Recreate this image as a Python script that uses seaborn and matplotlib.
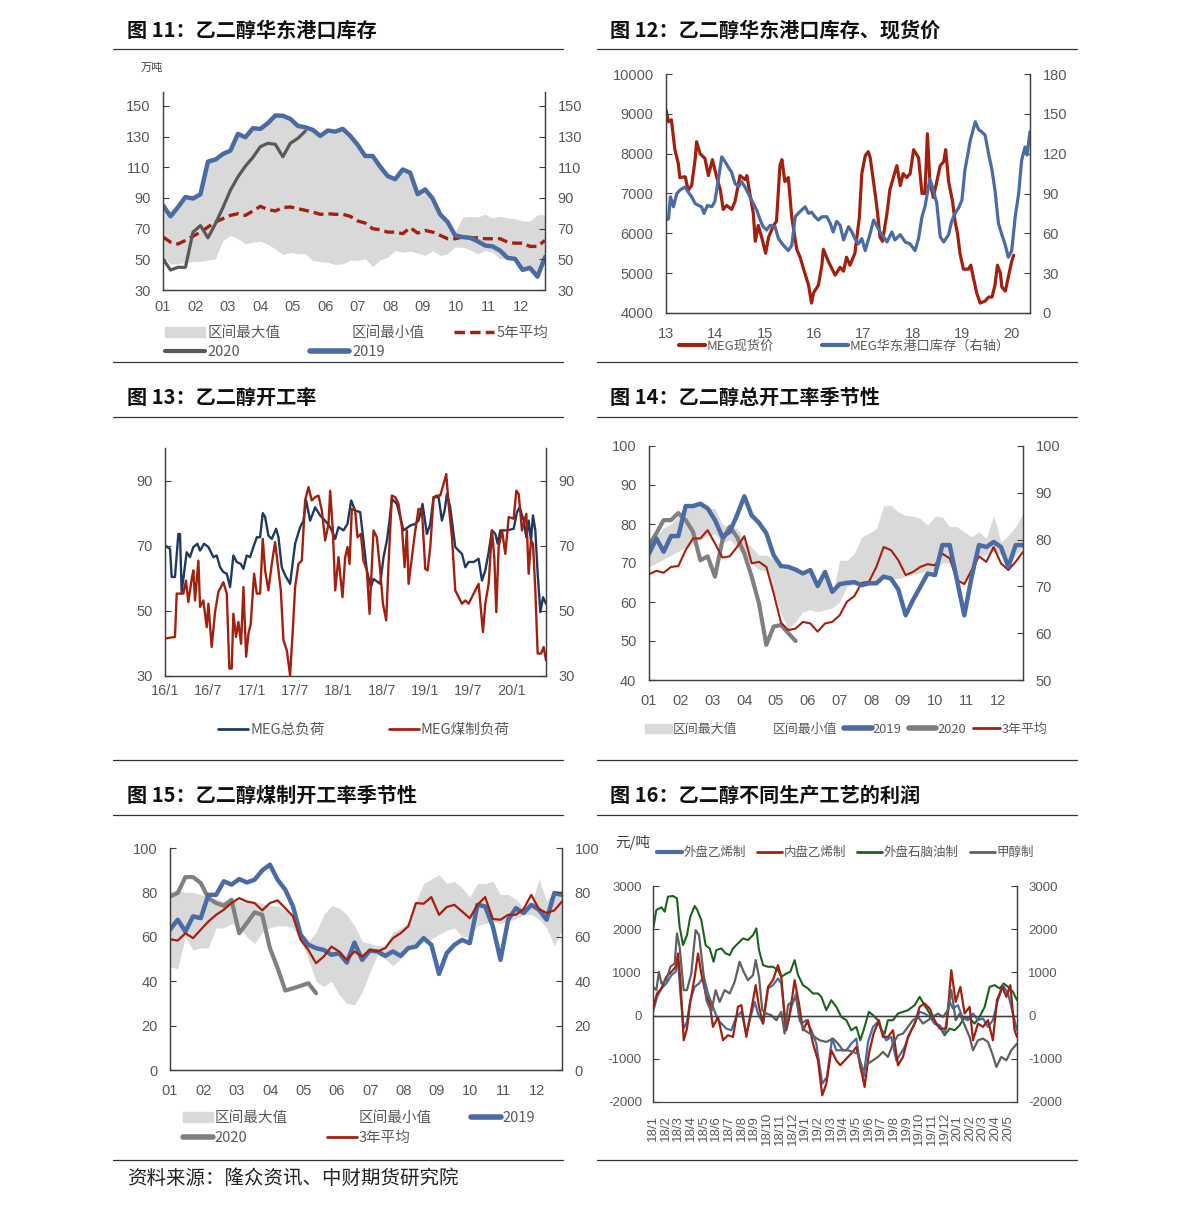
import matplotlib
matplotlib.use('Agg')
import matplotlib.pyplot as plt
import seaborn as sns
from matplotlib.lines import Line2D
from matplotlib.patches import Patch

sns.set_theme(style='white')
plt.rcParams['font.family'] = ['Liberation Sans', 'Noto Sans CJK SC', 'DejaVu Sans']
plt.rcParams['axes.unicode_minus'] = False

# ---------------- data ----------------
# Fig 11: East China port inventory (weekly, 万吨)
inv_weeks = list(range(52))
inv_month_labels = ['01', '02', '03', '04', '05', '06', '07', '08', '09', '10', '11', '12']
inv_band_max = [85.2, 78, 84, 90.6, 89.6, 92.4, 113.6, 115, 118.6, 120.8, 131.7, 129.5, 135.4, 135, 138.7, 143.7,
                143.5, 141.5, 136.9, 136, 134.3, 130.4, 133.9, 133.2, 135, 130.4, 124.5, 117.3, 117.3, 110.3,
                104.2, 102.2, 108.5, 106.4, 92.4, 95.5, 89.6, 79.3, 74.3, 67.5, 77.6, 78, 77.6, 79.3, 77, 78, 77,
                76.5, 75, 75, 79, 79]
inv_band_min = [51, 47, 47, 48, 48.5, 48.7, 49.6, 50.3, 62.3, 65.6, 63.4, 60, 61.2, 61.8, 59.7, 56.8, 53.1, 54.6,
                53.6, 53.6, 49.2, 48.5, 48, 46.6, 47, 49.6, 49.2, 50.3, 45.3, 49.6, 51.4, 55.7, 54.6, 55.3, 54,
                52.5, 55.7, 52.5, 53.6, 57.9, 57.9, 56.2, 53.6, 55.7, 54.6, 50.3, 50.3, 49.6, 42.6, 44.4, 38.7, 51]
inv_avg5 = [64.5, 61.2, 60, 62.3, 65, 67.7, 71, 74.3, 76.5, 78.6, 79.7, 78.6, 81.5, 84.5, 82.4, 81.5, 83.7, 84.1,
            83, 81.9, 80.8, 79.3, 79.7, 79.3, 79.3, 78, 75, 73.6, 69.9, 69.3, 67.7, 67.7, 66.7, 70.6, 67.1, 68.8,
            67.7, 65.6, 63.4, 63.4, 64.5, 64, 64, 63.4, 63.4, 63.4, 61.2, 60.5, 60.5, 58.4, 58.4, 62.3]
inv_2020 = [50.3, 43, 44.8, 44.8, 67.7, 72, 64, 73.2, 83.7, 95, 103.7, 110.7, 116.4, 123.4, 125.6, 124.9, 116.8,
            125.6, 128.8, 133.5]
inv_2019 = [85.2, 78, 84, 90.6, 89.6, 92.4, 113.6, 115, 118.6, 120.8, 131.7, 129.5, 135.4, 135, 138.7, 143.7,
            143.5, 141.5, 136.9, 136, 134.3, 130.4, 133.9, 133.2, 135, 130.4, 124.5, 117.3, 117.3, 110.3, 104.2,
            102.2, 108.5, 106.4, 92.4, 95.5, 89.6, 79.3, 74.3, 65.6, 64.5, 64, 61.8, 59, 58.4, 55.7, 50.9, 50.3,
            43.1, 44.4, 38.7, 51.4]

# Fig 12: spot price vs inventory (decimal years, 13 = 2013)
price_t = [13.00, 13.05, 13.11, 13.18, 13.25, 13.28, 13.39, 13.45, 13.52, 13.59, 13.62, 13.69, 13.79, 13.86,
           13.94, 14.03, 14.10, 14.16, 14.23, 14.33, 14.40, 14.50, 14.60, 14.64, 14.70, 14.77, 14.81, 14.87,
           14.94, 15.02, 15.08, 15.18, 15.24, 15.31, 15.35, 15.41, 15.48, 15.55, 15.65, 15.72, 15.79, 15.89,
           15.95, 15.99, 16.09, 16.16, 16.19, 16.29, 16.43, 16.53, 16.60, 16.66, 16.73, 16.83, 16.92, 16.97,
           17.04, 17.10, 17.14, 17.24, 17.29, 17.34, 17.39, 17.48, 17.51, 17.54, 17.61, 17.68, 17.75, 17.81,
           17.88, 17.95, 18.02, 18.12, 18.19, 18.25, 18.30, 18.35, 18.42, 18.49, 18.56, 18.63, 18.67, 18.73,
           18.81, 18.86, 18.91, 18.96, 19.03, 19.13, 19.18, 19.23, 19.30, 19.37, 19.47, 19.54, 19.61, 19.67,
           19.72, 19.78, 19.81, 19.88, 19.94, 20.01, 20.05]
price_v = [9100, 8800, 8850, 8100, 7750, 7400, 7420, 7080, 7200, 7850, 8300, 8000, 7880, 7450, 7850, 7400, 7100,
           6600, 6700, 6600, 6800, 7450, 7350, 7450, 7000, 6500, 5800, 6200, 5900, 5500, 5900, 6200, 6300, 7700,
           7850, 7300, 7400, 6400, 5600, 5400, 5100, 4700, 4250, 4500, 4700, 5200, 5600, 5300, 4950, 5150, 5050,
           5400, 5200, 5500, 6400, 7500, 7950, 8050, 7900, 7000, 6500, 5900, 5800, 6500, 6800, 7100, 7400, 7700,
           7200, 7500, 7400, 7500, 8100, 7900, 7000, 7000, 8500, 7300, 6900, 7300, 7700, 7800, 8100, 7300, 6800,
           6300, 6000, 5500, 5100, 5100, 5200, 4900, 4500, 4250, 4300, 4400, 4400, 4700, 5200, 5000, 4650, 4550,
           4900, 5300, 5450]
stock_t = [13.00, 13.05, 13.09, 13.15, 13.22, 13.28, 13.39, 13.45, 13.52, 13.59, 13.66, 13.72, 13.77, 13.84,
           13.93, 13.99, 14.06, 14.13, 14.18, 14.26, 14.33, 14.40, 14.47, 14.53, 14.60, 14.67, 14.77, 14.84,
           14.91, 14.97, 15.04, 15.11, 15.21, 15.28, 15.38, 15.48, 15.55, 15.62, 15.68, 15.75, 15.82, 15.89,
           15.95, 16.02, 16.09, 16.16, 16.26, 16.33, 16.39, 16.46, 16.53, 16.60, 16.70, 16.77, 16.83, 16.90,
           16.97, 17.04, 17.14, 17.21, 17.27, 17.34, 17.41, 17.48, 17.58, 17.64, 17.75, 17.85, 17.95, 18.05,
           18.12, 18.19, 18.25, 18.35, 18.42, 18.49, 18.56, 18.63, 18.73, 18.79, 18.86, 18.93, 19.00, 19.06,
           19.17, 19.27, 19.34, 19.40, 19.47, 19.54, 19.61, 19.67, 19.74, 19.81, 19.88, 19.94, 20.01, 20.08,
           20.15, 20.21, 20.28, 20.32, 20.38]
stock_v = [70, 71, 87.5, 80, 90, 92.5, 95, 91, 87.5, 82.5, 81, 80, 75, 81, 80, 84, 100, 117.6, 115, 110, 106, 97.5,
           95, 99, 95, 90, 82.5, 77.5, 70, 65, 62.5, 66, 65, 56, 51, 47, 51, 72.5, 75, 77.5, 80, 75, 76, 72.5, 70,
           72.5, 72.5, 67.5, 61, 69, 66, 55, 65, 61, 56, 52, 56, 47, 60, 70, 66, 61, 57.5, 53.5, 61, 55, 59, 53.5,
           52, 47, 56, 72.5, 80, 101, 92.5, 82.5, 57.5, 53.5, 59, 69, 75, 79, 85, 107.6, 130, 144, 138, 136.5, 134,
           120, 107.6, 92.5, 67.5, 59, 51, 42, 47, 72.5, 90, 115, 125, 119, 136.5]
year_labels = ['13', '14', '15', '16', '17', '18', '19', '20']

# Fig 13: operating rate (decimal years, 16 = 2016)
total_t = [16.000, 16.058, 16.077, 16.115, 16.154, 16.173, 16.192, 16.250, 16.288, 16.327, 16.373, 16.404,
           16.450, 16.500, 16.558, 16.596, 16.635, 16.673, 16.712, 16.750, 16.788, 16.827, 16.873, 16.904,
           16.942, 16.981, 17.019, 17.058, 17.096, 17.127, 17.154, 17.192, 17.231, 17.281, 17.308, 17.346,
           17.385, 17.442, 17.500, 17.558, 17.596, 17.627, 17.673, 17.731, 17.788, 17.846, 17.904, 17.962,
           18.000, 18.058, 18.104, 18.146, 18.192, 18.250, 18.288, 18.327, 18.373, 18.404, 18.481, 18.519,
           18.558, 18.588, 18.615, 18.673, 18.750, 18.827, 18.885, 18.923, 18.969, 19.019, 19.058, 19.096,
           19.154, 19.192, 19.223, 19.250, 19.288, 19.346, 19.385, 19.423, 19.462, 19.500, 19.558, 19.615,
           19.654, 19.692, 19.731, 19.769, 19.808, 19.835, 19.865, 19.942, 20.019, 20.058, 20.088, 20.135,
           20.165, 20.192, 20.219, 20.242, 20.269, 20.296, 20.327, 20.358, 20.392]
total_v = [70.1, 69, 60.4, 60.4, 73.6, 73.6, 55.8, 68, 66.5, 69.6, 70.6, 68.5, 70.6, 69.6, 66.5, 67, 63.4, 61.9,
           61.4, 57.3, 67, 65, 64.4, 62.9, 67, 66.5, 69.6, 72.6, 72.6, 80, 78.8, 73.1, 72.1, 75.2, 72.6, 63.4,
           60.9, 58.3, 70.6, 75.7, 77.7, 83.9, 77.7, 81.8, 79.3, 77.7, 75.7, 72.1, 75.7, 74.7, 76.7, 83.9, 80.8,
           80.3, 71.6, 62.4, 57.3, 59.8, 58.3, 66.5, 71.6, 77.7, 84.4, 82.8, 74.7, 76.2, 76.7, 77.7, 82.8, 73.6,
           76.7, 84.9, 84.9, 77.7, 80.8, 85.9, 81.8, 69.6, 68.5, 67.5, 63.4, 65, 65, 66, 59.3, 62.4, 68, 74.7,
           73.6, 70.6, 74.7, 74.7, 75.2, 80.3, 81.8, 77.7, 72.6, 77.7, 71.6, 79.3, 74.7, 61.4, 49.6, 54.2, 52.2]
coal_t = [16.000, 16.115, 16.135, 16.212, 16.242, 16.269, 16.308, 16.327, 16.346, 16.385, 16.404, 16.442,
          16.481, 16.500, 16.538, 16.577, 16.615, 16.673, 16.712, 16.742, 16.769, 16.788, 16.819, 16.846,
          16.877, 16.904, 16.935, 16.962, 16.988, 17.027, 17.058, 17.096, 17.127, 17.154, 17.192, 17.231,
          17.269, 17.308, 17.335, 17.365, 17.404, 17.442, 17.473, 17.500, 17.538, 17.577, 17.615, 17.654,
          17.692, 17.731, 17.769, 17.808, 17.846, 17.885, 17.904, 17.935, 17.962, 18.000, 18.046, 18.077,
          18.104, 18.127, 18.154, 18.192, 18.219, 18.258, 18.288, 18.327, 18.358, 18.404, 18.442, 18.481,
          18.512, 18.550, 18.577, 18.615, 18.654, 18.692, 18.731, 18.762, 18.788, 18.808, 18.846, 18.885,
          18.923, 18.962, 19.000, 19.027, 19.058, 19.096, 19.135, 19.173, 19.212, 19.242, 19.269, 19.308,
          19.346, 19.385, 19.423, 19.462, 19.500, 19.538, 19.577, 19.615, 19.642, 19.665, 19.692, 19.731,
          19.769, 19.796, 19.819, 19.846, 19.885, 19.923, 19.962, 20.019, 20.050, 20.077, 20.115, 20.165,
          20.192, 20.219, 20.242, 20.269, 20.296, 20.335, 20.365, 20.392]
coal_v = [41.5, 42, 55.3, 55.3, 59.3, 52.7, 59.8, 62.4, 53.2, 65.4, 51.2, 53.2, 45, 52.2, 38.9, 49.6, 55.8, 58.8,
          55.3, 32.3, 32.3, 49.1, 42, 46.6, 39.9, 57.3, 35.9, 43, 46, 61.4, 55.3, 55.3, 72.1, 62.4, 56.3, 64.4,
          71.1, 62.4, 56.3, 41, 37.9, 30.2, 44, 57.3, 64.4, 65.4, 83.9, 88, 83.9, 84.9, 85.4, 80.8, 71.6, 76.7,
          86.9, 74.7, 56.3, 66.5, 54.2, 66.5, 69.6, 64.4, 81.3, 80.8, 72.6, 73.6, 65.4, 62.4, 49.1, 74.7, 72.6,
          62.4, 52.2, 47.1, 64.4, 85.4, 84.9, 82.8, 75.7, 63.4, 74.7, 58.3, 66.5, 74.7, 81.3, 80.8, 62.9, 62.4,
          69.6, 84.9, 85.4, 85.4, 89, 92, 82.8, 72.6, 56.3, 54.2, 52.2, 53.2, 52.2, 54.2, 56.3, 58.3, 50.1, 43.5,
          52.2, 58.3, 74.7, 66.5, 49.6, 69.6, 74.7, 67.5, 78.8, 78.3, 86.9, 85.9, 74.7, 79.8, 61.4, 71.6, 70.6,
          56.3, 36.9, 36.9, 38.9, 34.8]
half_year_labels = ['16/1', '16/7', '17/1', '17/7', '18/1', '18/7', '19/1', '19/7', '20/1']

# Fig 14: total operating rate seasonality (weekly)
op_weeks = list(range(52))
op_band_max = [75, 77, 79, 80, 82, 84.5, 85, 85.5, 84, 84, 80, 79, 79, 76, 74, 72, 72, 71, 68.5, 68.5, 67.8,
               66.8, 67.5, 63.5, 67, 62, 70.7, 70.7, 72.4, 76.7, 77.6, 78.8, 84.6, 84.8, 83.1, 82.2, 82, 81.4,
               79.7, 82, 81.8, 79.3, 79.3, 78, 76.7, 78, 76.3, 82.2, 75.4, 77.1, 79.3, 82.7]
op_band_min = [69, 70, 71, 72, 73, 74, 75, 76, 77, 77.5, 75, 76, 74, 72, 70, 68.2, 68, 63, 57, 53, 55, 57.5, 58,
               57.5, 58, 58.5, 60, 64, 64.5, 64.5, 64.8, 65, 66, 66, 66, 66.5, 67, 67.5, 68, 68, 70, 70, 66, 65,
               67, 72, 72, 73, 72, 69, 72, 74]
op_2019 = [72.4, 76.3, 72.9, 76.9, 76.9, 84.6, 84.6, 85.2, 84, 81, 76.7, 78, 82.2, 87.1, 82.2, 80.3, 77.6, 72,
           69.2, 69, 68.3, 67.3, 68.2, 64.1, 67.7, 62.6, 64.6, 64.9, 65.1, 64.3, 64.8, 64.8, 66.5, 66, 63.2, 56.6,
           60.5, 63.9, 67.3, 66.9, 74.6, 74.6, 65.6, 56.6, 66.5, 74.6, 74.1, 75.4, 74.1, 69, 74.6, 74.6]
op_2020 = [74.6, 77.6, 81, 81, 82.8, 81, 78, 70.7, 71.7, 66.5, 75.8, 79.3, 76.7, 72.4, 66.5, 59.6, 49, 53.7,
           54.1, 52, 50]
op_avg3 = [67.1, 68, 67.5, 69, 69.2, 73.3, 76.3, 76.3, 78.4, 75, 71.4, 71.7, 74.1, 76.9, 69.9, 70.3, 69, 62.2,
           54.7, 52.8, 53.2, 54.9, 54.5, 52.4, 54.5, 54.9, 56.6, 60.1, 61.5, 64.9, 65.2, 69, 74.1, 73.3, 70.7,
           66.9, 67.7, 69, 69.7, 69.4, 72.4, 71.2, 65.6, 64.6, 68.2, 71.7, 70.3, 74.1, 69.9, 68.2, 70.3, 72.9]

# Fig 15: coal-based operating rate seasonality (weekly)
coal_band_max = [80.4, 81, 80, 80, 79, 78, 77, 76, 76, 76, 76, 76, 75, 74, 74, 72, 70, 62, 58, 62, 70, 74, 73, 70,
                 65, 58, 57, 56, 56, 62, 64, 66, 76, 84, 86, 88, 84, 85, 82, 78, 84, 84, 85, 79, 79, 77, 73, 74,
                 86, 76, 81, 81]
coal_band_min = [46.6, 45.5, 60, 54, 55, 55, 64, 64, 66, 64, 60, 57, 62, 64, 65, 65, 64, 58, 50, 40, 37.6, 40, 34,
                 30, 29.3, 35, 44, 52, 50, 47, 50, 54, 56, 58, 59, 61, 63, 64, 60, 60, 65, 66, 67, 66, 67, 68, 70,
                 70, 68, 64, 56, 63]
coal_2019 = [63.2, 67.7, 62.4, 69.2, 68.4, 78.9, 78.9, 85, 83.5, 86, 84.5, 85.7, 89.9, 92.5, 85.7, 81.2, 73.7,
             60.9, 56.4, 54.9, 54.1, 51.9, 52.6, 48.4, 57.4, 49.6, 53.8, 53.4, 51.4, 53.4, 51.4, 54.9, 55.6, 59.4,
             56.4, 43.3, 52.6, 56.4, 58.6, 57.1, 74.4, 73.7, 64.7, 49.6, 67.7, 72.9, 70.7, 74.4, 72.2, 67.7, 79.7,
             78.9]
coal_2020 = [78.2, 79.7, 86.9, 86.9, 84.2, 77.4, 75.2, 74, 76.7, 61.6, 66.2, 71, 69.9, 54.9, 45.9, 35.8, 36.8,
             37.9, 39.1, 34.6]
coal_avg3 = [58.9, 58.3, 61.6, 59.4, 63.2, 66.9, 69.9, 72.2, 75.2, 77.4, 75.9, 75.2, 71.9, 75.2, 76.4, 72.9, 69.2,
             58.6, 54.1, 48.1, 51.1, 55.6, 53.4, 49.6, 53.4, 51.1, 54.1, 53.4, 54.9, 59.4, 61.6, 64.7, 75.2, 74.9,
             77.9, 69.9, 73.4, 74.4, 71.4, 68.4, 74.4, 77.9, 68, 67.7, 69.9, 69.9, 72.5, 78.9, 72.5, 70.7, 71.9,
             75.9]

# Fig 16: profit by process (months since 2018-01)
naphtha_t = [0.00, 0.26, 0.66, 0.92, 1.18, 1.58, 1.89, 2.10, 2.37, 2.68, 2.94, 3.29, 3.47, 3.81, 4.15, 4.47, 4.78,
             4.99, 5.39, 5.73, 6.05, 6.31, 6.70, 7.10, 7.49, 7.89, 8.15, 8.36, 8.68, 9.07, 9.46, 9.86, 10.12,
             10.52, 10.83, 11.17, 11.44, 11.83, 12.22, 12.62, 13.01, 13.28, 13.67, 14.06, 14.46, 14.85, 15.25,
             15.64, 16.04, 16.35, 16.61, 17.03, 17.35, 17.74, 18.01, 18.27, 18.53, 18.93, 19.32, 19.72, 20.11,
             20.64, 21.03, 21.42, 21.82, 22.21, 22.61, 23.00, 23.40, 23.79, 24.19, 24.58, 24.97, 25.37, 25.76,
             26.16, 26.55, 26.95, 27.34, 27.66, 28.00, 28.39, 28.71]
naphtha_v = [1980, 2444, 2505, 2405, 2753, 2768, 2714, 2057, 1632, 1864, 2289, 2536, 2459, 2212, 1632, 1555, 1246,
             1516, 1555, 1439, 1400, 1555, 1671, 1787, 1748, 1864, 2019, 1516, 1168, 1130, 1130, 1052, 898, 975,
             1014, 1284, 937, 705, 627, 512, 512, 434, 125, 357, 203, -29, -107, -339, -262, -571, -339, 87, 10,
             -107, -339, -416, -107, -107, 48, 87, 125, 241, 434, 241, 48, -184, -262, -455, -300, -339, -223, -29,
             -68, -184, -29, 203, 666, 705, 627, 743, 666, 550, 357]
ext_eth_t = [0.00, 0.32, 0.66, 1.05, 1.45, 1.79, 1.97, 2.16, 2.42, 2.68, 2.94, 3.29, 3.63, 4.00, 4.34, 4.73, 5.13,
             5.39, 5.78, 6.18, 6.57, 6.97, 7.36, 7.62, 8.02, 8.28, 8.68, 9.07, 9.46, 9.86, 10.12, 10.52, 10.91,
             11.30, 11.70, 12.09, 12.49, 12.88, 13.35, 13.72, 14.12, 14.46, 14.85, 15.25, 15.64, 16.04, 16.35,
             16.61, 16.96, 17.35, 17.74, 18.14, 18.40, 18.80, 19.19, 19.45, 19.85, 20.24, 20.64, 21.03, 21.42,
             21.82, 22.21, 22.61, 23.00, 23.40, 23.66, 24.05, 24.45, 24.84, 25.24, 25.63, 26.03, 26.42, 26.81,
             27.21, 27.60, 28.00, 28.39, 28.71]
ext_eth_v = [87, 434, 627, 743, 937, 1014, 1284, 512, -300, -145, 357, 666, 743, 898, 512, 203, -107, -184, -300,
             -339, -29, 87, -416, -107, 318, 48, -184, 627, 705, 859, 743, -339, 203, 512, -184, -107, -339, -648,
             -1575, -1420, -532, -803, -803, -803, -648, -532, -1189, -1420, -610, -262, -145, -416, -571, -494,
             -1035, -918, -725, -416, -184, 87, 48, -29, -184, -223, -416, 318, 164, 241, -68, -107, 48, -107, -68,
             -262, -107, 357, 705, 512, 48, -339]
dom_eth_t = [0.00, 0.32, 0.66, 1.05, 1.45, 1.79, 1.97, 2.16, 2.42, 2.68, 2.94, 3.29, 3.55, 3.81, 4.15, 4.47, 4.73,
             5.13, 5.52, 5.91, 6.31, 6.70, 6.97, 7.36, 7.75, 8.10, 8.36, 8.68, 9.07, 9.46, 9.86, 10.12, 10.46,
             10.78, 11.17, 11.51, 11.83, 12.22, 12.62, 13.01, 13.35, 13.67, 14.06, 14.46, 14.77, 15.25, 15.64,
             16.04, 16.43, 16.69, 17.03, 17.40, 17.82, 18.14, 18.53, 18.93, 19.32, 19.72, 20.11, 20.64, 21.03,
             21.42, 21.82, 22.21, 22.61, 23.13, 23.53, 23.87, 24.24, 24.58, 24.97, 25.24, 25.63, 26.03, 26.42,
             26.81, 27.13, 27.55, 27.87, 28.18, 28.52, 28.71]
dom_eth_v = [164, 512, 627, 898, 1014, 1130, 1439, 821, -571, -300, 318, 898, 1439, 975, 512, 280, -262, -29, -571,
             -455, -494, 203, 241, -494, 125, 705, 203, -184, 666, 821, 1168, 898, -339, 10, 821, 280, -339, -107,
             -648, -1035, -1845, -1575, -803, -1035, -1150, -996, -880, -725, -1266, -1652, -880, -416, -107, -494,
             -494, -339, -1150, -957, -494, -184, 203, 280, 164, -107, -300, -300, 1052, 318, 666, 48, 203, -571,
             -184, -262, -107, -571, 357, 666, 434, 705, -339, -494]
methanol_t = [0.00, 0.26, 0.47, 0.66, 1.05, 1.37, 1.71, 1.89, 2.10, 2.42, 2.68, 3.02, 3.36, 3.63, 3.89, 4.21,
              4.60, 4.94, 5.26, 5.65, 6.05, 6.44, 6.83, 7.15, 7.49, 7.89, 8.10, 8.36, 8.62, 8.94, 9.33, 9.73,
              10.12, 10.38, 10.65, 10.91, 11.30, 11.57, 11.96, 12.36, 12.75, 13.14, 13.67, 14.20, 14.59, 14.98,
              15.38, 15.77, 16.17, 16.56, 16.96, 17.35, 17.74, 18.14, 18.53, 18.93, 19.32, 19.72, 20.11, 20.50,
              20.90, 21.29, 21.69, 22.08, 22.48, 22.87, 23.26, 23.53, 23.87, 24.19, 24.58, 24.97, 25.24, 25.63,
              26.03, 26.42, 26.76, 27.08, 27.47, 27.87, 28.26, 28.71]
methanol_v = [666, 589, 1014, 743, 821, 1130, 1207, 1903, 1594, 589, 589, 975, 1980, 1864, 1207, 357, 87, 589, 318,
              589, 512, 782, 1246, 1014, 821, 937, 1284, 898, 125, 48, 10, -107, 87, -416, 241, 318, 396, -107,
              -339, -416, -494, -571, -610, -532, -648, -803, -803, -841, -880, -1266, -1111, -1035, -957, -841,
              -957, -648, -455, -416, -262, -107, -29, -184, -107, -29, 48, -29, 125, 589, -107, 48, -223, -494,
              -803, -571, -532, -610, -880, -1189, -957, -1035, -803, -648]
month_labels_16 = ['18/1', '18/2', '18/3', '18/4', '18/5', '18/6', '18/7', '18/8', '18/9', '18/10', '18/11',
                   '18/12', '19/1', '19/2', '19/3', '19/4', '19/5', '19/6', '19/7', '19/8', '19/9', '19/10',
                   '19/11', '19/12', '20/1', '20/2', '20/3', '20/4', '20/5']

# ---------------- style ----------------
W, H = 1191, 1209
fig = plt.figure(figsize=(W / 100, H / 100), dpi=100)
TICKC = '#595959'
SPINEC = '#404040'
BAND = '#D9D9D9'
BLUE = '#4A6BA3'
DGRAY = '#595959'
MGRAY = '#808080'
RED = '#A3200F'
NAVY = '#1F3A60'
GREEN = '#17651A'
CJK = ['Noto Sans CJK SC', 'DejaVu Sans']


def axes_at(x0, y0, x1, y1):
    return fig.add_axes([x0 / W, 1 - y1 / H, (x1 - x0) / W, (y1 - y0) / H])


def style(ax, ylim, yticks, rlim=None, rticks=None, fs=10, pad=6, xpad=6):
    ax.set_ylim(*ylim)
    ax.set_yticks(yticks)
    ax.set_xlabel('')
    ax.set_ylabel('')
    ax.spines['top'].set_visible(False)
    for s in ['left', 'bottom', 'right']:
        ax.spines[s].set_color(SPINEC)
        ax.spines[s].set_linewidth(0.9)
    ax.tick_params(axis='both', direction='in', length=4, width=0.8, color=SPINEC,
                   labelsize=fs, labelcolor=TICKC)
    ax.tick_params(axis='y', pad=pad)
    ax.tick_params(axis='x', pad=xpad)
    tw = ax.twinx()
    tw.set_ylim(*(rlim if rlim else ylim))
    tw.set_yticks(rticks if rticks else yticks)
    tw.spines['top'].set_visible(False)
    for s in ['left', 'bottom', 'right']:
        tw.spines[s].set_color(SPINEC)
        tw.spines[s].set_linewidth(0.9)
    tw.tick_params(axis='y', direction='in', length=4, width=0.8, color=SPINEC,
                   labelsize=fs, labelcolor=TICKC, pad=pad)
    return tw


def line(ax, x, y, color, lw, ls='-'):
    sns.lineplot(x=x, y=y, ax=ax, color=color, linewidth=lw, linestyle=ls,
                 estimator=None, sort=False, legend=False)


def title(x, y, s):
    fig.text(x / W, 1 - y / H, s, fontsize=14.5, fontweight='bold', color='#111111',
             va='center', ha='left', family=CJK)


def sep(x0, x1, y):
    fig.add_artist(Line2D([x0 / W, x1 / W], [1 - y / H, 1 - y / H], color='#333333', lw=0.9))


def legend(handles, labels, x, y, ncol, fs=10, **kw):
    leg = fig.legend(handles, labels, loc='upper left', bbox_to_anchor=(x / W, 1 - y / H),
                     bbox_transform=fig.transFigure, ncol=ncol, frameon=False,
                     prop={'family': CJK, 'size': fs}, **kw)
    for t in leg.get_texts():
        t.set_color(TICKC)
    return leg


# titles and separators
title(127, 30, '图 11：乙二醇华东港口库存')
title(610, 30, '图 12：乙二醇华东港口库存、现货价')
title(127, 397, '图 13：乙二醇开工率')
title(610, 397, '图 14：乙二醇总开工率季节性')
title(127, 795, '图 15：乙二醇煤制开工率季节性')
title(610, 795, '图 16：乙二醇不同生产工艺的利润')
for yy in [49, 362, 417, 760, 815, 1160]:
    sep(113, 563, yy)
    sep(597, 1077, yy)
fig.text(127 / W, 1 - 1178 / H, '资料来源：隆众资讯、中财期货研究院', fontsize=14, color='#222222',
         va='center', ha='left', family=CJK)

# ---- Fig 11 ----
ax = axes_at(163, 92, 545, 290)
ax.fill_between(inv_weeks, inv_band_min, inv_band_max, color=BAND, lw=0)
line(ax, inv_weeks, inv_avg5, RED, 2.4, (0, (3, 1.5)))
line(ax, inv_weeks[:len(inv_2020)], inv_2020, DGRAY, 2.3)
line(ax, inv_weeks, inv_2019, BLUE, 3.2)
ax.set_xlim(0, 51)
ax.set_xticks([m * 4.34 for m in range(12)])
ax.set_xticklabels(inv_month_labels)
style(ax, (30, 159), [30, 50, 70, 90, 110, 130, 150], fs=10.5, pad=9, xpad=7)
fig.text(141 / W, 1 - 68 / H, '万吨', fontsize=8, color='#404040', va='center', family=CJK, style='italic')
legend([Patch(color=BAND), Line2D([], [], color=DGRAY, lw=3), Patch(color='white'),
        Line2D([], [], color=BLUE, lw=4), Line2D([], [], color=RED, lw=2.5, ls=(0, (3, 1.5)))],
       ['区间最大值', '2020', '区间最小值', '2019', '5年平均'], 152, 313, 3, fs=10.5,
       handlelength=2.7, handletextpad=0.2, columnspacing=2.0, labelspacing=0.35)

# ---- Fig 12 ----
ax = axes_at(666, 74, 1030, 313)
line(ax, price_t, price_v, RED, 2.3)
ax.set_xlim(13, 20.38)
ax.set_xticks([13, 14, 15, 16, 17, 18, 19, 20])
ax.set_xticklabels(year_labels)
tw = style(ax, (4000, 10000), list(range(4000, 10001, 1000)), (0, 180), list(range(0, 181, 30)),
           fs=10.5, pad=9, xpad=10)
line(tw, stock_t, stock_v, BLUE, 2.3)
tw.set_ylim(0, 180)
tw.set_ylabel('')
legend([Line2D([], [], color=RED, lw=3), Line2D([], [], color=BLUE, lw=3)],
       ['MEG现货价', 'MEG华东港口库存（右轴）'], 667, 328, 2, fs=9.5,
       handlelength=2.0, handletextpad=0.1, columnspacing=3.6)

# ---- Fig 13 ----
ax = axes_at(165, 448, 546, 676)
line(ax, total_t, total_v, NAVY, 1.7)
line(ax, coal_t, coal_v, RED, 1.7)
ax.set_xlim(16, 20.392)
ax.set_xticks([16 + 0.5 * i for i in range(9)])
ax.set_xticklabels(half_year_labels)
style(ax, (30, 100), [30, 50, 70, 90], fs=10.5, pad=9, xpad=6)
legend([Line2D([], [], color=NAVY, lw=2), Line2D([], [], color=RED, lw=2)],
       ['MEG总负荷', 'MEG煤制负荷'], 205, 710, 2, fs=10.5,
       handlelength=2.05, handletextpad=0.15, columnspacing=4.4)

# ---- Fig 14 ----
ax = axes_at(649, 446, 1023, 680)
ax.fill_between(op_weeks, op_band_min, op_band_max, color=BAND, lw=0)
line(ax, op_weeks[:len(op_2020)], op_2020, MGRAY, 3.0)
line(ax, op_weeks, op_avg3, RED, 1.5)
line(ax, op_weeks, op_2019, BLUE, 3.2)
ax.set_xlim(0, 51)
ax.set_xticks([m * 4.33 for m in range(12)])
ax.set_xticklabels(inv_month_labels)
style(ax, (40, 100), list(range(40, 101, 10)), (50, 100), list(range(50, 101, 10)), fs=10.5, pad=9, xpad=10)
legend([Patch(color=BAND), Patch(color='white'), Line2D([], [], color=BLUE, lw=4),
        Line2D([], [], color=MGRAY, lw=4), Line2D([], [], color=RED, lw=2)],
       ['区间最大值', '区间最小值', '2019', '2020', '3年平均'], 633, 711, 5, fs=9.3,
       handlelength=2.1, handletextpad=0.1, columnspacing=0.55)

# ---- Fig 15 ----
ax = axes_at(170, 848, 562, 1070)
ax.fill_between(op_weeks, coal_band_min, coal_band_max, color=BAND, lw=0)
line(ax, op_weeks[:len(coal_2020)], coal_2020, MGRAY, 3.0)
line(ax, op_weeks, coal_2019, BLUE, 3.2)
line(ax, op_weeks, coal_avg3, RED, 1.6)
ax.set_xlim(0, 51)
ax.set_xticks([m * 4.34 for m in range(12)])
ax.set_xticklabels(inv_month_labels)
style(ax, (0, 100), list(range(0, 101, 20)), fs=10.5, pad=9, xpad=10)
legend([Patch(color=BAND), Line2D([], [], color=MGRAY, lw=4), Patch(color='white'),
        Line2D([], [], color=RED, lw=2), Line2D([], [], color=BLUE, lw=4)],
       ['区间最大值', '2020', '区间最小值', '3年平均', '2019'], 170, 1098, 3, fs=10.5,
       handlelength=2.05, handletextpad=0.1, columnspacing=2.7, labelspacing=0.4)

# ---- Fig 16 ----
ax = axes_at(653, 886, 1017, 1102)
ax.axhline(0, color=SPINEC, lw=1.0)
line(ax, naphtha_t, naphtha_v, GREEN, 1.5)
line(ax, ext_eth_t, ext_eth_v, BLUE, 1.6)
line(ax, dom_eth_t, dom_eth_v, RED, 1.6)
line(ax, methanol_t, methanol_v, '#606060', 1.6)
ax.set_xlim(0, 28.71)
ax.set_xticks(list(range(29)))
style(ax, (-2000, 3000), list(range(-2000, 3001, 1000)), fs=9.5, pad=8)
ax.spines['bottom'].set_position(('data', 0))
ax.tick_params(axis='x', labelbottom=False, length=3)
sec = ax.secondary_xaxis(0.0)
sec.set_xticks(list(range(29)))
sec.set_xticklabels(month_labels_16, rotation=90, fontsize=9.5, color=TICKC, va='center')
sec.tick_params(axis='x', length=0, pad=19)
sec.spines['bottom'].set_visible(False)
fig.text(615 / W, 1 - 843 / H, '元/吨', fontsize=10.5, color='#404040', va='center', family=CJK)
legend([Line2D([], [], color=BLUE, lw=3), Line2D([], [], color=RED, lw=2),
        Line2D([], [], color=GREEN, lw=2), Line2D([], [], color='#606060', lw=2)],
       ['外盘乙烯制', '内盘乙烯制', '外盘石脑油制', '甲醇制'], 646, 835, 4, fs=9,
       handlelength=2.0, handletextpad=0.1, columnspacing=0.9)

fig.savefig('out.png', dpi=100, facecolor='white')
